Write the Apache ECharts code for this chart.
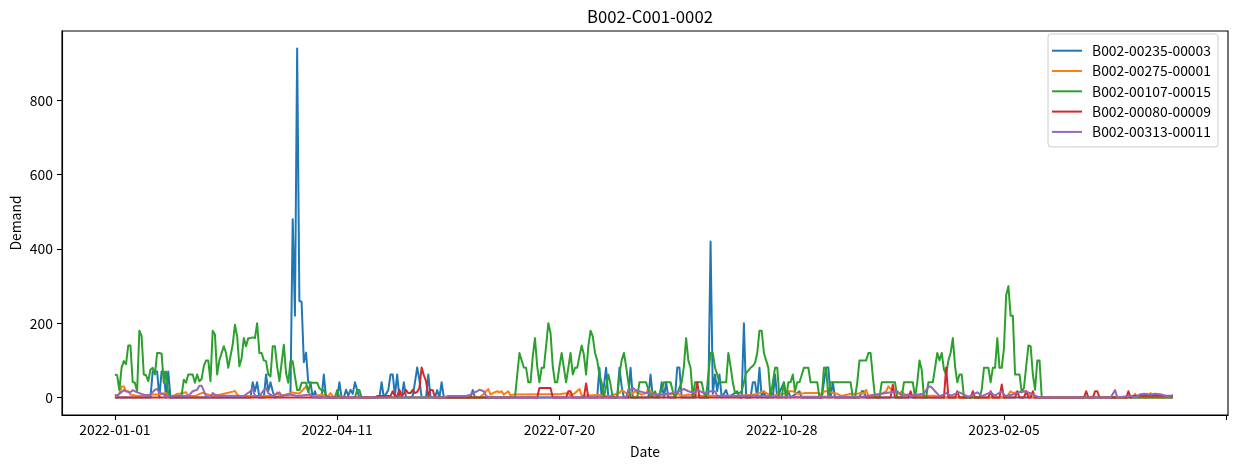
<!DOCTYPE html>
<html><head><meta charset="utf-8">
<script src="https://cdn.jsdelivr.net/npm/echarts/dist/echarts.min.js"></script>
<style>html,body{margin:0;padding:0;background:#fff}#c{width:1234px;height:469px}</style>
</head><body><div id="c"></div>
<script>
// Day offsets from startDate, with demand values
const startDate = '2022-01-01';
const titleText = 'B002-C001-0002';
const xName = 'Date';
const yName = 'Demand';
const xTickDays = [0, 100, 200, 300, 400, 500];
const xTickLabels = ['2022-01-01', '2022-04-11', '2022-07-20', '2022-10-28', '2023-02-05'];
const yTicks = [0, 200, 400, 600, 800];
const seriesNames = ['B002-00235-00003', 'B002-00275-00001', 'B002-00107-00015', 'B002-00080-00009', 'B002-00313-00011'];

const s00235 = [[0,0],[16,0],[17,70],[18,70],[19,70],[20,0],[21,70],[22,70],[23,0],[24,70],[25,0],[61,0],[62,41],[63,17],[64,41],[65,0],[67,0],[68,62],[69,17],[70,41],[71,17],[72,0],[79,10],[80,480],[81,220],[82,940],[83,260],[84,258],[85,95],[86,121],[87,40],[88,41],[89,0],[90,17],[91,0],[93,0],[94,62],[95,0],[100,0],[101,41],[102,0],[103,0],[104,21],[105,5],[106,21],[107,10],[108,41],[109,20],[110,0],[119,0],[120,41],[121,0],[123,20],[124,62],[125,62],[126,5],[127,62],[128,0],[129,0],[130,41],[131,0],[133,0],[134,5],[135,41],[136,81],[137,48],[138,0],[140,0],[141,62],[142,0],[144,0],[145,20],[146,0],[147,41],[148,0],[160,0],[161,20],[162,0],[217,0],[218,80],[219,0],[220,30],[221,80],[222,0],[226,0],[227,80],[228,30],[229,0],[231,0],[232,80],[233,0],[240,0],[241,62],[242,0],[245,0],[246,41],[247,0],[248,41],[249,0],[252,0],[253,81],[254,81],[255,0],[267,0],[268,420],[269,10],[270,62],[271,17],[272,62],[273,0],[275,20],[276,0],[280,17],[281,0],[282,0],[283,200],[284,0],[286,0],[287,41],[288,41],[289,0],[290,80],[291,0],[292,17],[293,0],[294,0],[295,17],[296,0],[297,62],[298,0],[301,41],[302,0],[303,17],[304,0],[308,17],[309,0],[318,0],[319,41],[320,81],[321,81],[322,0],[323,41],[324,0],[335,0],[336,17],[337,17],[338,0],[476,0]];

const s00275 = [[0,5],[1,5],[2,10],[3,30],[4,30],[5,17],[6,17],[7,8],[10,4],[17,8],[19,8],[23,12],[25,0],[28,10],[29,10],[32,14],[33,4],[36,4],[39,12],[40,12],[44,4],[45,5],[51,13],[53,16],[54,18],[55,8],[56,4],[72,4],[73,14],[74,4],[77,8],[80,14],[81,12],[83,11],[84,17],[86,30],[87,17],[88,4],[90,4],[93,8],[96,4],[97,12],[98,4],[99,0],[164,0],[166,10],[168,23],[169,8],[170,12],[172,17],[173,14],[174,17],[175,8],[177,17],[178,5],[179,8],[191,9],[200,9],[204,12],[205,4],[207,12],[209,23],[210,5],[218,7],[220,4],[223,5],[225,9],[227,12],[228,20],[230,12],[232,7],[234,17],[237,8],[239,12],[240,23],[241,17],[243,5],[247,8],[250,8],[253,12],[255,4],[258,8],[262,5],[270,5],[280,4],[288,8],[290,12],[292,17],[294,8],[296,4],[299,10],[302,10],[303,17],[305,17],[307,10],[308,10],[311,12],[317,12],[318,4],[319,17],[321,17],[323,12],[325,10],[327,4],[331,10],[334,10],[335,12],[337,11],[338,21],[339,4],[343,4],[345,10],[347,17],[348,30],[350,17],[351,17],[353,10],[354,17],[355,10],[357,4],[366,5],[369,5],[371,0],[401,0],[403,17],[404,12],[409,17],[410,17],[412,4],[413,0],[458,0],[459,10],[460,0],[465,0],[466,12],[467,0],[476,0]];

const s00107 = [[0,62],[1,60],[2,20],[3,80],[4,98],[5,90],[6,140],[7,140],[8,42],[9,40],[10,17],[11,180],[12,166],[13,62],[14,60],[15,44],[16,75],[17,80],[18,62],[19,120],[20,120],[21,118],[22,40],[23,70],[24,10],[25,0],[26,5],[28,0],[30,5],[31,48],[32,40],[33,62],[34,62],[35,62],[36,40],[37,62],[38,44],[39,50],[40,84],[41,100],[42,100],[43,44],[44,180],[45,170],[46,62],[47,100],[48,120],[49,138],[50,120],[51,80],[52,111],[53,142],[54,196],[55,165],[56,84],[57,106],[58,160],[59,138],[60,160],[61,160],[62,162],[63,160],[64,200],[65,120],[66,120],[67,100],[68,98],[69,62],[70,57],[71,138],[72,138],[73,84],[74,44],[75,93],[76,142],[77,66],[78,40],[79,98],[80,98],[81,57],[82,20],[83,20],[84,40],[85,40],[86,40],[87,15],[88,40],[89,40],[90,40],[91,40],[92,25],[93,20],[94,20],[95,5],[96,0],[99,0],[100,20],[101,0],[108,0],[109,20],[110,20],[111,0],[180,0],[181,60],[182,120],[183,100],[184,81],[185,80],[186,41],[187,41],[188,111],[189,160],[190,84],[191,41],[192,80],[193,80],[194,138],[195,200],[196,174],[197,84],[198,41],[199,41],[200,84],[201,120],[202,80],[203,41],[204,80],[205,120],[206,62],[207,80],[208,80],[209,111],[210,140],[211,115],[212,62],[213,138],[214,180],[215,165],[216,120],[217,100],[218,62],[219,40],[220,0],[221,30],[222,62],[223,35],[224,0],[226,0],[227,62],[228,100],[229,120],[230,84],[231,41],[232,0],[235,0],[236,41],[239,41],[240,21],[241,0],[243,17],[244,0],[246,20],[247,41],[250,41],[251,17],[252,0],[253,12],[255,41],[256,84],[257,160],[258,100],[259,80],[260,0],[261,41],[264,41],[265,12],[266,0],[267,62],[268,120],[269,120],[270,80],[271,62],[272,41],[275,41],[276,120],[277,84],[278,41],[279,12],[281,12],[282,17],[283,41],[284,66],[286,80],[287,85],[288,93],[289,120],[290,180],[291,180],[292,120],[293,100],[294,80],[295,0],[296,41],[297,80],[298,80],[299,0],[300,0],[301,41],[302,0],[303,41],[304,41],[305,62],[306,17],[307,41],[308,41],[310,80],[312,80],[313,41],[316,41],[317,0],[318,0],[319,80],[320,80],[321,0],[322,41],[331,41],[332,0],[333,0],[334,41],[335,100],[336,100],[338,100],[339,120],[340,120],[341,57],[342,0],[344,0],[345,41],[351,41],[352,0],[354,0],[355,41],[359,41],[360,0],[361,41],[362,100],[363,75],[364,0],[365,0],[366,41],[368,41],[369,80],[370,120],[371,100],[372,120],[373,75],[374,62],[375,100],[376,120],[377,160],[378,84],[379,41],[380,62],[381,62],[382,0],[389,0],[390,21],[391,80],[393,80],[394,41],[395,80],[396,80],[397,160],[398,80],[399,80],[400,133],[401,276],[402,300],[403,220],[404,220],[405,62],[407,62],[408,14],[409,26],[410,84],[411,140],[412,138],[413,62],[414,21],[415,100],[416,100],[417,0],[476,0]];

const s00080 = [[0,0],[117,0],[118,4],[124,4],[125,17],[126,4],[127,4],[128,21],[129,4],[130,10],[131,20],[132,12],[133,12],[134,21],[135,12],[136,15],[137,26],[138,81],[139,60],[140,44],[141,4],[142,21],[143,20],[144,0],[190,0],[191,26],[196,26],[197,0],[203,0],[204,17],[205,17],[206,0],[211,0],[212,38],[213,0],[261,0],[262,41],[263,0],[349,0],[350,35],[351,0],[357,0],[358,17],[359,0],[373,0],[374,81],[375,0],[378,0],[379,17],[380,0],[385,0],[386,17],[387,0],[393,0],[394,17],[395,0],[398,0],[399,35],[400,0],[405,0],[406,17],[407,0],[409,0],[410,17],[411,0],[412,0],[413,17],[414,0],[436,0],[437,17],[438,0],[440,0],[441,17],[442,17],[443,0],[455,0],[456,17],[457,0],[458,5],[461,5],[472,5],[476,4]];

const s00313 = [[0,8],[1,5],[4,20],[5,17],[7,14],[8,20],[10,14],[11,12],[13,8],[14,5],[16,8],[18,21],[19,23],[20,14],[22,8],[23,2],[26,4],[28,5],[30,5],[33,4],[35,17],[37,21],[38,32],[39,32],[41,4],[43,2],[44,12],[45,8],[47,4],[50,5],[58,4],[61,17],[62,26],[63,4],[65,4],[67,20],[68,26],[69,12],[71,4],[74,14],[75,4],[79,8],[82,4],[88,8],[89,2],[90,0],[148,0],[150,4],[158,4],[160,8],[161,12],[163,17],[164,21],[166,17],[167,4],[169,0],[230,0],[231,21],[232,21],[233,26],[234,21],[236,17],[239,12],[240,12],[244,8],[247,8],[253,14],[256,23],[258,17],[261,12],[262,21],[265,12],[268,17],[270,17],[271,4],[279,5],[288,5],[300,2],[336,2],[352,17],[354,5],[357,8],[358,4],[364,11],[366,29],[367,30],[369,17],[371,4],[373,8],[374,12],[376,5],[380,14],[382,8],[384,2],[388,14],[390,4],[394,14],[396,5],[399,17],[400,8],[401,4],[404,8],[407,14],[409,17],[412,12],[414,5],[416,0],[448,0],[450,20],[451,0],[457,5],[459,0],[461,8],[463,10],[466,8],[468,10],[471,8],[473,4],[474,2],[476,7]];

const seriesValues = [s00235, s00275, s00107, s00080, s00313];
const colors = ['#1f77b4', '#ff7f0e', '#2ca02c', '#d62728', '#9467bd'];
const F = '"Noto Sans CJK JP", "Noto Sans", sans-serif';

const chart = echarts.init(document.getElementById('c'), null, {renderer: 'canvas'});
chart.setOption({
  animation: false,
  backgroundColor: '#fff',
  title: {
    text: titleText, left: 645, top: 3, textAlign: 'center',
    textStyle: {fontSize: 16.7, fontWeight: 'normal', color: '#000', fontFamily: F}
  },
  grid: {left: 62, right: 6, top: 31, bottom: 54, show: true, borderColor: '#000', borderWidth: 1.1, containLabel: false, outerBoundsMode: 'none'},
  legend: {
    data: seriesNames, orient: 'vertical', right: 16, top: 34,
    icon: 'rect', itemWidth: 30, itemHeight: 2, itemGap: 6.3,
    padding: [9.7, 7, 8, 4],
    backgroundColor: 'rgba(255,255,255,0.8)', borderColor: '#cccccc', borderWidth: 1, borderRadius: 3,
    textStyle: {fontSize: 13.9, color: '#000', fontFamily: F, lineHeight: 14, padding: [0, 0, 0, 5]},
    selectedMode: false
  },
  xAxis: {
    type: 'value', min: -23.8, max: 500.8,
    name: xName, nameLocation: 'middle', nameGap: 30,
    nameTextStyle: {fontSize: 13.9, color: '#000', fontFamily: F},
    axisLine: {show: true, onZero: false, lineStyle: {color: '#000', width: 1.1}},
    axisTick: {show: true, length: 5, lineStyle: {color: '#000', width: 1.1}, customValues: xTickDays},
    axisLabel: {
      show: true, color: '#000', fontSize: 13.9, fontFamily: F, margin: 8,
      customValues: xTickDays.slice(0, xTickLabels.length),
      formatter: v => { const i = xTickDays.indexOf(v); return i >= 0 && i < xTickLabels.length ? xTickLabels[i] : ''; }
    },
    splitLine: {show: false}
  },
  yAxis: {
    type: 'value', min: -47, max: 987,
    name: yName, nameLocation: 'middle', nameGap: 39, nameRotate: 90, nameMoveOverlap: false,
    nameTextStyle: {fontSize: 13.9, color: '#000', fontFamily: F},
    axisLine: {show: true, onZero: false, lineStyle: {color: '#000', width: 1.1}},
    axisTick: {show: true, length: 5, lineStyle: {color: '#000', width: 1.1}, customValues: yTicks},
    axisLabel: {show: true, color: '#000', fontSize: 13.9, fontFamily: F, margin: 9, customValues: yTicks},
    splitLine: {show: false}
  },
  series: seriesValues.map((d, i) => ({
    type: 'line', name: seriesNames[i], data: d,
    showSymbol: false, symbol: 'none', clip: true,
    lineStyle: {width: 2, color: colors[i], join: 'round'},
    itemStyle: {color: colors[i]},
    emphasis: {disabled: true}
  }))
});
</script></body></html>
